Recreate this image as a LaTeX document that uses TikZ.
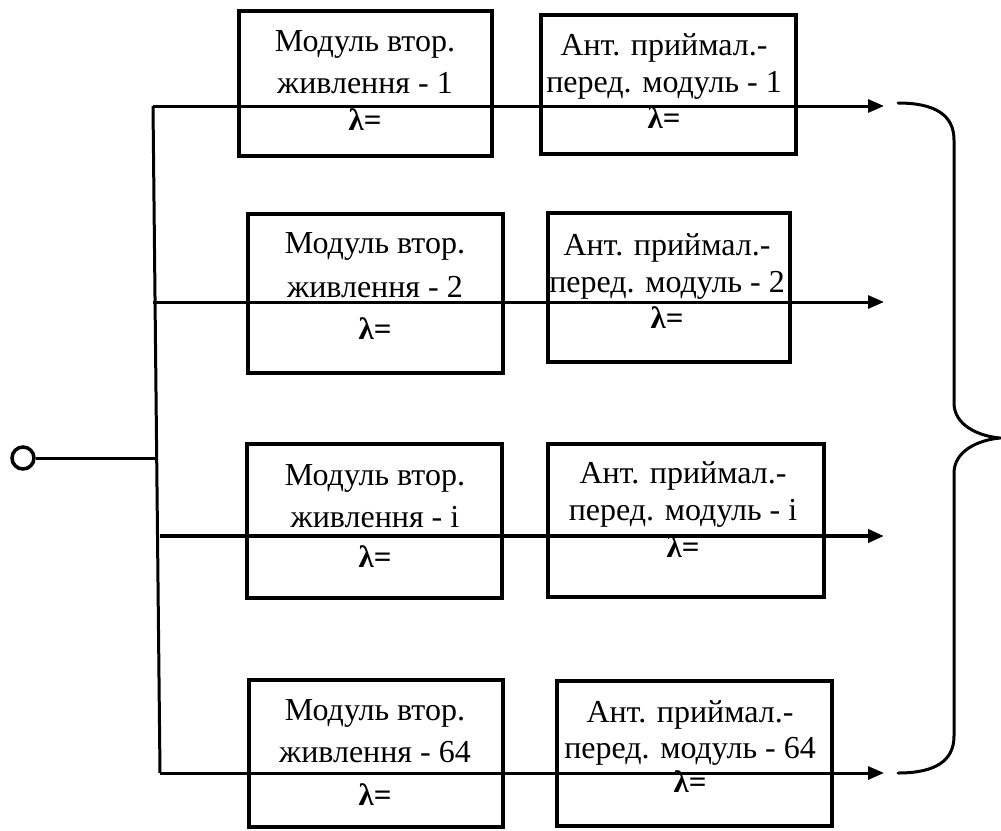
\documentclass[tikz,border=0pt]{standalone}
\usepackage{fontspec}
\setmainfont{Liberation Serif}
\usetikzlibrary{arrows.meta}
\begin{document}
\begin{tikzpicture}[x=1pt,y=-1pt,
  box/.style={draw,line width=4pt,rectangle,inner sep=0pt,outer sep=0pt},
  txt/.style={font=\fontsize{32}{38}\selectfont,anchor=base,inner sep=0pt},
  lam/.style={font=\fontsize{31}{38}\selectfont\bfseries,anchor=base,inner sep=0pt},
  wire/.style={line width=3pt},
  flow/.style={line width=3pt,-{Triangle[length=16pt,width=13pt]}},
  brace/.style={line width=3pt,line cap=round}]
\useasboundingbox (0,0) rectangle (1001,830);
% boxes
\node[box,minimum width=253pt,minimum height=145pt] (b1L) at (365.5,83.5) {};
\node[box,minimum width=255pt,minimum height=139pt] (b1R) at (668.5,84.5) {};
\node[box,minimum width=255pt,minimum height=159pt] (b2L) at (375.5,293.5) {};
\node[box,minimum width=242pt,minimum height=149pt] (b2R) at (669,287.5) {};
\node[box,minimum width=255pt,minimum height=154pt] (b3L) at (374.5,521) {};
\node[box,minimum width=276pt,minimum height=153pt] (b3R) at (686,520.5) {};
\node[box,minimum width=254pt,minimum height=147pt] (b4L) at (376,753.5) {};
\node[box,minimum width=275pt,minimum height=145pt] (b4R) at (694.5,753.5) {};
% bus and input
\coordinate (s1) at (153,106);
\coordinate (s2) at (153,302);
\coordinate (j) at (157,458);
\coordinate (s3) at (160,536);
\coordinate (s4) at (160,773);
\coordinate (e1) at (884,106);
\coordinate (e2) at (884,302);
\coordinate (e3) at (884,536);
\coordinate (e4) at (884,773);
\node[draw,circle,line width=3.5pt,minimum size=22pt,inner sep=0pt] (in) at (23,458) {};
\draw[wire] (s1) -- (s4);
\draw[wire] (in.east) -- (j);
\draw[flow] (s1) -- (e1);
\draw[flow] (s2) -- (e2);
\draw[flow,line width=4pt] (s3) -- (e3);
\draw[flow] (s4) -- (e4);
% brace
\coordinate (bt) at (898,103);
\coordinate (bm) at (1000,438);
\coordinate (bb) at (898,773);
\draw[brace] (bt) .. controls (935,103) and (954,115) .. (954,140)
  -- (954,403) .. controls (954,425) and (978,436) .. (bm)
  .. controls (978,440) and (954,451) .. (954,473)
  -- (954,736) .. controls (954,761) and (935,773) .. (bb);
% texts row 1
\node[txt] (t1a) at (365,51) {Модуль втор.};
\node[txt] (t1b) at (365,93) {живлення - 1};
\node[lam] (l1L) at (365,130) {λ=};
\node[txt] (r1a) at (664,55) {Ант. приймал.-};
\node[txt] (r1b) at (664,92) {перед. модуль - 1};
\node[lam] (l1R) at (664,128) {λ=};
% row 2
\node[txt] (t2a) at (375,253) {Модуль втор.};
\node[txt] (t2b) at (375,297) {живлення - 2};
\node[lam] (l2L) at (375,339) {λ=};
\node[txt] (r2a) at (667,255) {Ант. приймал.-};
\node[txt] (r2b) at (667,292) {перед. модуль - 2};
\node[lam] (l2R) at (667,328) {λ=};
% row 3
\node[txt] (t3a) at (375,485) {Модуль втор.};
\node[txt] (t3b) at (375,527) {живлення - i};
\node[lam] (l3L) at (375,567) {λ=};
\node[txt] (r3a) at (683,483) {Ант. приймал.-};
\node[txt] (r3b) at (683,520) {перед. модуль - i};
\node[lam] (l3R) at (683,557) {λ=};
% row 4
\node[txt] (t4a) at (375,720) {Модуль втор.};
\node[txt] (t4b) at (375,762) {живлення - 64};
\node[lam] (l4L) at (375,805) {λ=};
\node[txt] (r4a) at (690,722) {Ант. приймал.-};
\node[txt] (r4b) at (690,758) {перед. модуль - 64};
\node[lam] (l4R) at (690,792) {λ=};
\end{tikzpicture}
\end{document}
